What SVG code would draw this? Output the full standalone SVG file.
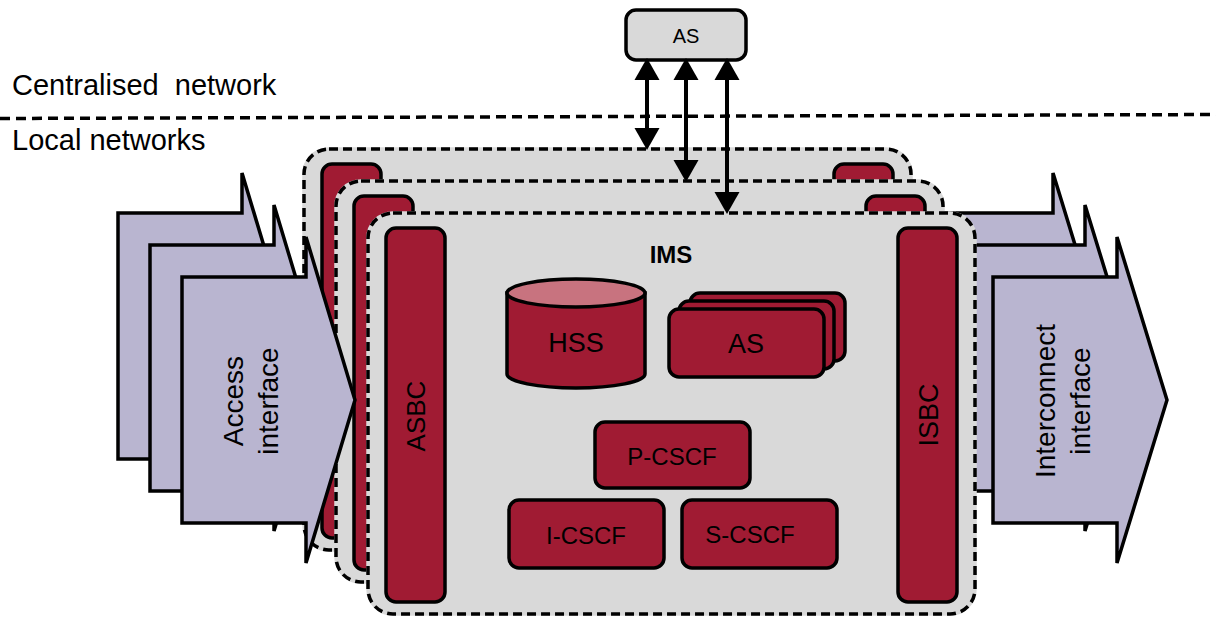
<svg xmlns="http://www.w3.org/2000/svg" width="1216" height="617" viewBox="0 0 1216 617">
<style>
  text { font-family: "Liberation Sans", Arial, sans-serif; fill: #000; }
  .red { fill: #a01b33; stroke: #000; stroke-width: 3.5; }
  .panelbase { fill: #d9d9d9; stroke: #d9d9d9; stroke-width: 3.5; }
  .paneldash { fill: none; stroke: #000; stroke-width: 3.5; stroke-dasharray: 9 5; }
  .iface { fill: #b9b5d0; stroke: #000; stroke-width: 3.5; stroke-linejoin: miter; }
  .conn { stroke: #000; stroke-width: 4; fill: none; }
  .head { fill: #000; }
</style>

<text x="12" y="95" font-size="29" xml:space="preserve">Centralised  network</text>
<text x="12" y="150" font-size="29">Local networks</text>
<line x1="0" y1="118.5" x2="1216" y2="114.5" stroke="#000" stroke-width="3.5" stroke-dasharray="10 6"/>

<!-- interconnect interfaces (behind panels) -->
<g id="interconnect-1"><polygon class="iface" points="929,213 1053,213 1053,173 1103,336 1053,499 1053,459 929,459"/></g>
<g id="interconnect-2"><polygon class="iface" points="961,245 1085,245 1085,205 1135,368 1085,531 1085,491 961,491"/></g>

<!-- local network panel 1 -->
<g id="panel-1">
  <rect class="panelbase" x="304" y="149" width="607" height="401" rx="25"/>
  <rect class="red" x="322" y="164" width="59" height="374" rx="10"/>
  <rect class="red" x="834" y="164" width="59" height="374" rx="10"/>
  <rect class="paneldash" x="304" y="149" width="607" height="401" rx="25"/>
</g>
<!-- local network panel 2 -->
<g id="panel-2">
  <rect class="panelbase" x="336" y="181" width="607" height="401" rx="25"/>
  <rect class="red" x="354" y="196" width="59" height="374" rx="10"/>
  <rect class="red" x="866" y="196" width="59" height="374" rx="10"/>
  <rect class="paneldash" x="336" y="181" width="607" height="401" rx="25"/>
</g>

<!-- access interfaces -->
<g id="access-1"><polygon class="iface" points="118,213 242,213 242,173 291,336 242,499 242,459 118,459"/></g>
<g id="access-2"><polygon class="iface" points="150,245 274,245 274,205 323,368 274,531 274,491 150,491"/></g>
<g id="access-3">
  <polygon class="iface" points="182,277 306,277 306,237 355,400 306,563 306,523 182,523"/>
  <g transform="translate(261,401) rotate(-90)">
    <text x="0" y="-18" font-size="28" text-anchor="middle">Access</text>
    <text x="0" y="17" font-size="28" text-anchor="middle">interface</text>
  </g>
</g>

<g id="interconnect-3">
  <polygon class="iface" points="993,277 1117,277 1117,237 1167,400 1117,563 1117,523 993,523"/>
  <g transform="translate(1072,401) rotate(-90)">
    <text x="0" y="-17" font-size="28" text-anchor="middle">Interconnect</text>
    <text x="0" y="18" font-size="28" text-anchor="middle">interface</text>
  </g>
</g>

<!-- front IMS panel -->
<g id="panel-3">
  <rect class="panelbase" x="368" y="213" width="607" height="401" rx="25"/>
  <rect class="paneldash" x="368" y="213" width="607" height="401" rx="25"/>
  <text x="671" y="263" font-size="24" font-weight="bold" text-anchor="middle">IMS</text>
</g>
<g id="asbc">
  <rect class="red" x="386" y="228" width="59" height="374" rx="10"/>
  <text transform="translate(425,416) rotate(-90)" font-size="26" text-anchor="middle">ASBC</text>
</g>
<g id="isbc">
  <rect class="red" x="898" y="228" width="59" height="374" rx="10"/>
  <text transform="translate(938,415) rotate(-90)" font-size="27" text-anchor="middle">ISBC</text>
</g>
<g id="hss">
  <path class="red" d="M507,293 L507,374 A69,14 0 0 0 645,374 L645,293 Z"/>
  <ellipse cx="576" cy="293" rx="69" ry="14" fill="#c8737f" stroke="#000" stroke-width="3.5"/>
  <text x="576" y="352" font-size="27" text-anchor="middle">HSS</text>
</g>
<g id="as-local">
  <rect class="red" x="690" y="293" width="155" height="68" rx="10"/>
  <rect class="red" x="679" y="301" width="155" height="68" rx="10"/>
  <rect class="red" x="669" y="309" width="155" height="68" rx="10"/>
  <text x="746" y="353" font-size="27" text-anchor="middle">AS</text>
</g>
<g id="p-cscf">
  <rect class="red" x="595" y="422" width="155" height="66" rx="10"/>
  <text x="672" y="465" font-size="24" text-anchor="middle">P-CSCF</text>
</g>
<g id="i-cscf">
  <rect class="red" x="509" y="500" width="155" height="68" rx="10"/>
  <text x="586" y="544" font-size="24" text-anchor="middle">I-CSCF</text>
</g>
<g id="s-cscf">
  <rect class="red" x="682" y="500" width="155" height="68" rx="10"/>
  <text x="750" y="543" font-size="24" text-anchor="middle">S-CSCF</text>
</g>

<g id="as-central">
  <rect x="626" y="10" width="120" height="50" rx="10" fill="#d9d9d9" stroke="#000" stroke-width="3.5"/>
  <text x="686" y="43" font-size="20" text-anchor="middle">AS</text>
</g>

<g id="connectors">
  <line class="conn" x1="647" y1="78" x2="647" y2="131"/>
  <polygon class="head" points="647,58 634.5,80 659.5,80"/>
  <polygon class="head" points="647,150 634.5,128 659.5,128"/>
  <line class="conn" x1="686" y1="78" x2="686" y2="163"/>
  <polygon class="head" points="686,58 673.5,80 698.5,80"/>
  <polygon class="head" points="686,182 673.5,160 698.5,160"/>
  <line class="conn" x1="727" y1="78" x2="727" y2="195"/>
  <polygon class="head" points="727,58 714.5,80 739.5,80"/>
  <polygon class="head" points="727,214 714.5,192 739.5,192"/>
</g>
</svg>
